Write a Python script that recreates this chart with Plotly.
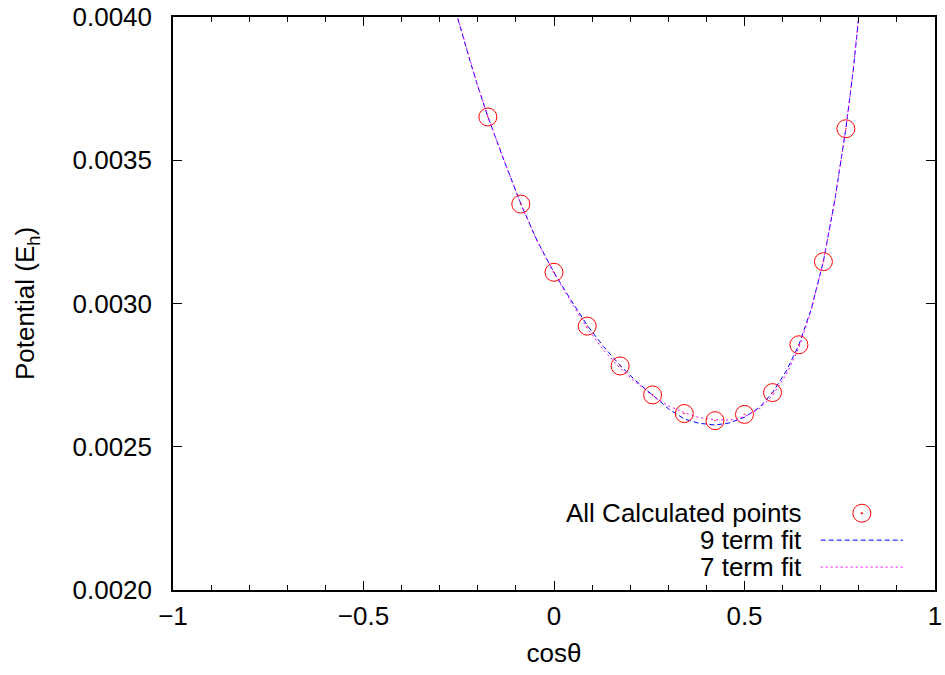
import plotly.graph_objects as go

# Calculated points (cos theta, potential in Eh)
pts_x = [-0.1736, -0.0872, 0.0, 0.0872, 0.1736, 0.2588, 0.3420, 0.4226, 0.5000, 0.5736, 0.6428, 0.7071, 0.7660]
pts_y = [0.003651, 0.003347, 0.003109, 0.002921, 0.002782, 0.002681, 0.002616, 0.002591, 0.002613, 0.002689, 0.002856, 0.003146, 0.003610]

# 9 term fit curve
fit9_x = [-0.27, -0.254, -0.22, -0.20, -0.173, -0.13, -0.087, -0.045, 0.0, 0.045, 0.087, 0.13, 0.174,
          0.215, 0.259, 0.30, 0.342, 0.38, 0.423, 0.46, 0.50, 0.54, 0.574, 0.61, 0.643, 0.675,
          0.707, 0.737, 0.766, 0.785, 0.80, 0.81]
fit9_y = [0.004075, 0.004000, 0.003845, 0.003758, 0.003650, 0.003495, 0.003348, 0.003221, 0.003108,
          0.003011, 0.002924, 0.002850, 0.002783, 0.002730, 0.002678, 0.002633, 0.002597, 0.002582,
          0.002576, 0.002583, 0.002603, 0.002638, 0.002690, 0.002765, 0.002856, 0.002980, 0.003147,
          0.003360, 0.003610, 0.003810, 0.004000, 0.004150]

# 7 term fit curve
fit7_x = fit9_x
fit7_y = [0.004078, 0.004003, 0.003848, 0.003760, 0.003651, 0.003495, 0.003347, 0.003219, 0.003106,
          0.003005, 0.002914, 0.002838, 0.002773, 0.002725, 0.002678, 0.002643, 0.002619, 0.002602,
          0.002594, 0.002593, 0.002605, 0.002633, 0.002680, 0.002753, 0.002846, 0.002975, 0.003147,
          0.003360, 0.003610, 0.003810, 0.004000, 0.004150]

x_ticks = [-1, -0.5, 0, 0.5, 1]
x_ticklabels = ["\u22121", "\u22120.5", "0", "0.5", "1"]
y_ticks = [0.0020, 0.0025, 0.0030, 0.0035, 0.0040]
y_ticklabels = ["0.0020", "0.0025", "0.0030", "0.0035", "0.0040"]

legend_labels = ["All Calculated points", "9 term fit", "7 term fit"]

FONT = "Liberation Sans, Arial, Helvetica, sans-serif"
FS = 26
RED = "#ff0000"
BLUE = "#0000ff"
MAGENTA = "#ff00ff"

fig = go.Figure()
fig.add_trace(go.Scatter(x=fit9_x, y=fit9_y, mode="lines", name=legend_labels[1],
                         line=dict(color=BLUE, width=1, dash="5px,3px"), showlegend=False))
fig.add_trace(go.Scatter(x=fit7_x, y=fit7_y, mode="lines", name=legend_labels[2],
                         line=dict(color=MAGENTA, width=1, dash="2px,3px"), showlegend=False))
fig.add_trace(go.Scatter(x=pts_x, y=pts_y, mode="markers", name=legend_labels[0],
                         marker=dict(symbol="circle-open-dot", size=18, color=RED,
                                     line=dict(color=RED, width=1)),
                         showlegend=False, cliponaxis=False))

axis_common = dict(
    showgrid=False, zeroline=False, showline=True, linecolor="black", linewidth=1.5,
    mirror="ticks", ticks="inside", ticklen=9, tickwidth=1, tickcolor="black",
    tickfont=dict(family=FONT, size=FS, color="black"), automargin=False,
)

fig.update_xaxes(range=[-1, 1], tickvals=x_ticks, ticktext=x_ticklabels,
                 minor=dict(ticks="inside", ticklen=5, tickwidth=1, tickcolor="black", dtick=0.1, tick0=0),
                 title=dict(text="cos\u03b8", font=dict(family=FONT, size=FS, color="black"), standoff=14),
                 ticklabelstandoff=2,
                 **axis_common)
fig.update_yaxes(range=[0.0020, 0.0040], tickvals=y_ticks, ticktext=y_ticklabels,
                 title=dict(text="Potential (E<sub>h</sub>)", font=dict(family=FONT, size=FS, color="black"), standoff=30),
                 ticklabelstandoff=14,
                 **axis_common)

# Custom legend (text right-aligned, sample on the right, as in gnuplot)
leg_text_x = 0.828
leg_rows_y = [0.134, 0.087, 0.040]
for lab, yy in zip(legend_labels, leg_rows_y):
    fig.add_annotation(x=leg_text_x, y=yy, xref="paper", yref="paper", text=lab, showarrow=False,
                       xanchor="right", yanchor="middle", font=dict(family=FONT, size=FS, color="black"))
fig.add_shape(type="circle", xref="paper", yref="paper", xsizemode="pixel", ysizemode="pixel",
              xanchor=0.904, yanchor=leg_rows_y[0], x0=-9, x1=9, y0=-9, y1=9,
              line=dict(color=RED, width=1))
fig.add_shape(type="circle", xref="paper", yref="paper", xsizemode="pixel", ysizemode="pixel",
              xanchor=0.904, yanchor=leg_rows_y[0], x0=-0.7, x1=0.7, y0=-0.7, y1=0.7,
              line=dict(color=RED, width=1), fillcolor=RED)
fig.add_shape(type="line", xref="paper", yref="paper", x0=0.850, x1=0.958, y0=leg_rows_y[1], y1=leg_rows_y[1],
              line=dict(color=BLUE, width=1, dash="5px,3px"))
fig.add_shape(type="line", xref="paper", yref="paper", x0=0.850, x1=0.958, y0=leg_rows_y[2], y1=leg_rows_y[2],
              line=dict(color=MAGENTA, width=1, dash="2px,3px"))

fig.update_layout(
    width=945, height=675,
    margin=dict(l=173, r=10, t=17, b=85),
    paper_bgcolor="white", plot_bgcolor="white",
    font=dict(family=FONT, size=FS, color="black"),
    showlegend=False,
)

fig.write_html("out.html")
